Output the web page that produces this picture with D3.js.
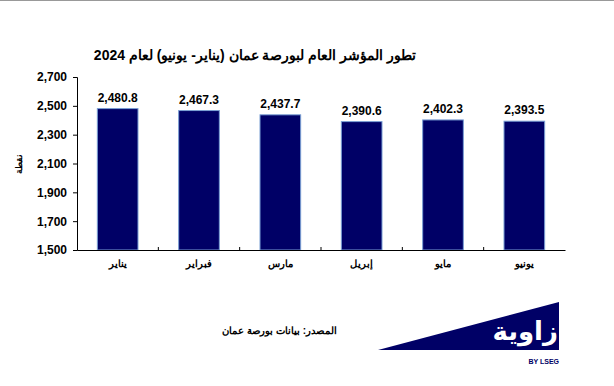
<!DOCTYPE html>
<html>
<head>
<meta charset="utf-8">
<script src="https://cdn.jsdelivr.net/npm/d3@7"></script>
<style>
  body { margin: 0; background: #fff; }
  svg { display: block; font-family: Arial, "Liberation Sans", sans-serif; }
</style>
</head>
<body>
<div id="chart"></div>
<script>
// Data
const months = ["يناير", "فبراير", "مارس", "إبريل", "مايو", "يونيو"];
const values = [2480.8, 2467.3, 2437.7, 2390.6, 2402.3, 2393.5];
const yTicks = [1500, 1700, 1900, 2100, 2300, 2500, 2700];

const width = 614, height = 386;
const margin = { top: 77, right: 49, bottom: 136, left: 77 };

const svg = d3.select("#chart").append("svg")
    .attr("width", width)
    .attr("height", height);

// top grey border line
svg.append("line")
    .attr("x1", 0).attr("x2", width)
    .attr("y1", 0.5).attr("y2", 0.5)
    .attr("stroke", "#999").attr("stroke-width", 1);

// Title
svg.append("text")
    .attr("x", 255).attr("y", 60)
    .attr("text-anchor", "middle")
    .style("font-size", "14px")
    .style("font-weight", "bold")
    .attr("direction", "rtl")
    .text("تطور المؤشر العام لبورصة عمان (يناير- يونيو) لعام 2024");

// Scales
const x = d3.scaleBand()
    .domain(months)
    .range([margin.left, width - margin.right])
    .paddingInner(0.5)
    .paddingOuter(0.25);

const y = d3.scaleLinear()
    .domain([1500, 2700])
    .range([height - margin.bottom, margin.top]);

// Bars
svg.selectAll(".bar")
    .data(values)
    .join("rect")
    .attr("class", "bar")
    .attr("x", (d, i) => x(months[i]))
    .attr("y", d => y(d))
    .attr("width", x.bandwidth())
    .attr("height", d => y(1500) - y(d))
    .attr("fill", "#000066")
    .attr("stroke", "#7a9fd4")
    .attr("stroke-width", 1);

// Value labels
svg.selectAll(".val")
    .data(values)
    .join("text")
    .attr("class", "val")
    .attr("x", (d, i) => x(months[i]) + x.bandwidth() / 2)
    .attr("y", d => y(d) - 7)
    .attr("text-anchor", "middle")
    .style("font-size", "12px")
    .style("font-weight", "bold")
    .text(d => d3.format(",.1f")(d));

// Y axis
const yAxis = svg.append("g")
    .attr("transform", `translate(${margin.left},0)`)
    .call(d3.axisLeft(y).tickValues(yTicks).tickFormat(d3.format(",")).tickSize(4).tickPadding(6));
yAxis.select(".domain").attr("stroke", "#000");
yAxis.selectAll("text")
    .style("font-size", "12px")
    .style("font-weight", "bold")
    .style("font-family", "Arial, 'Liberation Sans', sans-serif")
    .attr("fill", "#000");

// X axis
const xAxis = svg.append("g")
    .attr("transform", `translate(0,${height - margin.bottom})`)
    .call(d3.axisBottom(x).tickSize(0).tickPadding(10));
xAxis.select(".domain").attr("stroke", "#000");
xAxis.selectAll("text")
    .style("font-size", "10px")
    .style("font-weight", "bold")
    .style("font-family", "Arial, 'Liberation Sans', sans-serif")
    .attr("fill", "#000");

// small category separator ticks
const step = x.step();
svg.append("g")
    .selectAll("line")
    .data(months.slice(1))
    .join("line")
    .attr("x1", d => x(d) - x.paddingInner() * step * 0.5)
    .attr("x2", d => x(d) - x.paddingInner() * step * 0.5)
    .attr("y1", height - margin.bottom)
    .attr("y2", height - margin.bottom - 3)
    .attr("stroke", "#000");

// Y axis title
svg.append("text")
    .attr("transform", `translate(22,${y(2100)}) rotate(-90)`)
    .attr("text-anchor", "middle")
    .style("font-size", "9px")
    .style("font-weight", "bold")
    .text("نقطة");

// Source (rtl: start anchor = right edge)
svg.append("text")
    .attr("x", 337).attr("y", 334)
    .attr("text-anchor", "start")
    .style("font-size", "10px")
    .style("font-weight", "bold")
    .attr("direction", "rtl")
    .text("المصدر: بيانات بورصة عمان");

// Logo
const logo = svg.append("g");
logo.append("path")
    .attr("d", "M378,350 L559,302 L559,350 Z")
    .attr("fill", "#000066");
logo.append("text")
    .attr("x", 558).attr("y", 340)
    .attr("text-anchor", "start")
    .attr("fill", "#fff")
    .style("font-size", "26px")
    .style("font-weight", "bold")
    .style("font-family", "'DejaVu Sans', sans-serif")
    .attr("direction", "rtl")
    .text("زاوية");
logo.append("text")
    .attr("x", 559).attr("y", 364)
    .attr("text-anchor", "end")
    .attr("fill", "#000066")
    .style("font-size", "7px")
    .style("font-weight", "bold")
    .text("BY LSEG");
</script>
</body>
</html>
